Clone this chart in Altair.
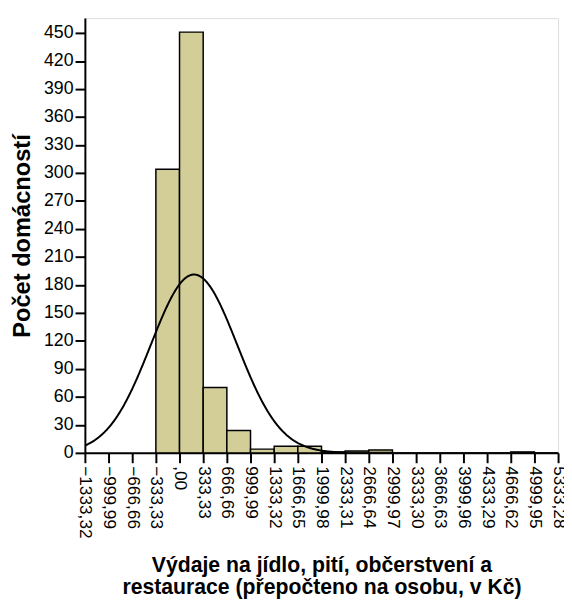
import altair as alt
import pandas as pd

# Histogram bins (lower edges, width 333.33) and counts
bin_starts = [-333.33, 0.0, 333.33, 666.66, 999.99, 1333.32, 1666.65, 1999.98,
              2333.31, 2666.64, 4666.62]
counts = [304, 451, 70, 24, 4, 7, 7, 1, 2, 3, 1]
bin_width = 333.33

# Normal curve parameters (estimated)
curve_mean = 204.0
curve_sd = 608.0
curve_n = 874

tick_values = [-1333.32, -999.99, -666.66, -333.33, 0.0, 333.33, 666.66, 999.99,
               1333.32, 1666.65, 1999.98, 2333.31, 2666.64, 2999.97, 3333.30,
               3666.63, 3999.96, 4333.29, 4666.62, 4999.95, 5333.28]
y_ticks = [0, 30, 60, 90, 120, 150, 180, 210, 240, 270, 300, 330, 360, 390, 420, 450]

x_min, x_max = -1333.32, 5333.28
y_max = 466

bars_df = pd.DataFrame({
    "start": bin_starts,
    "end": [round(s + bin_width, 2) for s in bin_starts],
    "count": counts,
})

FONT = "Liberation Sans"

x_scale = alt.Scale(domain=[x_min, x_max], nice=False, zero=False)
y_scale = alt.Scale(domain=[0, y_max], nice=False)

x_axis = alt.Axis(
    values=tick_values,
    tickCount=len(tick_values),
    labelExpr="abs(datum.value) < 0.001 ? ',00' : replace(format(datum.value, '.2f'), '.', ',')",
    labelAngle=90,
    labelFontSize=17.5,
    labelFont=FONT,
    labelColor="black",
    labelPadding=3,
    tickSize=10,
    tickWidth=2,
    tickColor="black",
    domainColor="black",
    domainWidth=2,
    grid=False,
    labelOverlap=False,
    labelFlush=False,
    labelBound=False,
    title=["Výdaje na jídlo, pití, občerstvení a", "restaurace (přepočteno na osobu, v Kč)"],
    titleFont=FONT,
    titleFontSize=21.5,
    titleFontWeight="bold",
    titleColor="black",
    titleLineHeight=22,
    titlePadding=17,
)

y_axis = alt.Axis(
    values=y_ticks,
    tickCount=len(y_ticks),
    labelFontSize=18,
    labelFont=FONT,
    labelColor="black",
    labelPadding=2,
    labelOverlap=False,
    tickSize=10,
    tickWidth=2,
    tickColor="black",
    domainColor="black",
    domainWidth=2,
    grid=False,
    title="Počet domácností",
    titleFont=FONT,
    titleFontSize=24,
    titleFontWeight="bold",
    titleColor="black",
    titlePadding=9,
)

bars = alt.Chart(bars_df).mark_bar(
    fill="#D3CE98", stroke="black", strokeWidth=1.5
).encode(
    x=alt.X("start:Q", scale=x_scale, axis=x_axis),
    x2="end:Q",
    y=alt.Y("count:Q", scale=y_scale, axis=y_axis),
    y2=alt.datum(0),
)

curve = alt.Chart(
    alt.sequence(start=x_min, stop=x_max + 1, step=8, as_="v")
).transform_calculate(
    dens=f"{curve_n} * {bin_width} * exp(-0.5 * pow((datum.v - {curve_mean}) / {curve_sd}, 2)) / ({curve_sd} * sqrt(2 * PI))"
).mark_line(color="black", strokeWidth=2, clip=True).encode(
    x=alt.X("v:Q", scale=x_scale, axis=x_axis),
    y=alt.Y("dens:Q", scale=y_scale, axis=y_axis),
)

chart = alt.layer(bars, curve).properties(
    width=480,
    height=441,
    autosize=alt.AutoSizeParams(type="none"),
    padding={"left": 78, "top": 6, "right": 6, "bottom": 146},
).configure_view(
    fill="#EFEFEF", stroke="black", strokeWidth=2
).configure(background="white")

chart.save("out.html", embed_options={"renderer": "svg", "actions": False})
